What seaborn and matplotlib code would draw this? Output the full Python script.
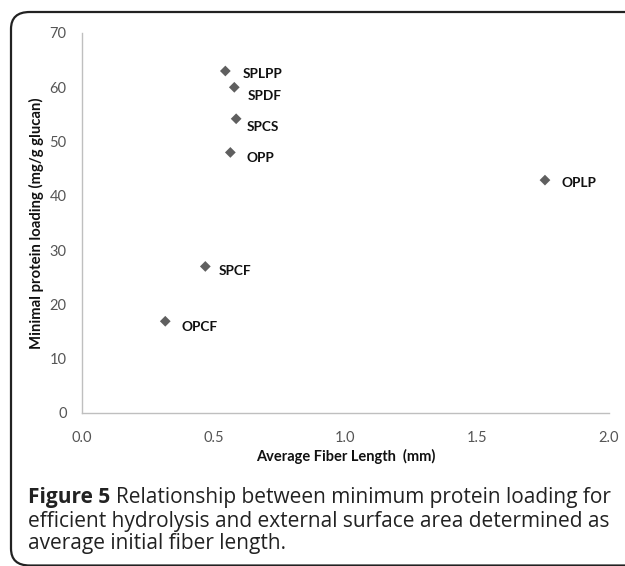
import matplotlib
matplotlib.use('Agg')
import matplotlib.pyplot as plt
import seaborn as sns
import pandas as pd
from matplotlib.patches import FancyBboxPatch

# data
samples = ['SPLPP', 'SPDF', 'SPCS', 'OPP', 'SPCF', 'OPCF', 'OPLP']
fiber_length = [0.544, 0.578, 0.585, 0.563, 0.468, 0.316, 1.757]
protein_loading = [63.0, 60.0, 54.2, 48.0, 27.0, 16.9, 42.9]
x_ticks = [0.0, 0.5, 1.0, 1.5, 2.0]
y_ticks = [0, 10, 20, 30, 40, 50, 60, 70]

caption_head = 'Figure 5'
caption_lines = [
    'Relationship between minimum protein loading for',
    'efficient hydrolysis and external surface area determined as',
    'average initial fiber length.',
]

# label offsets in pixels (dx right, dy down)
label_offsets = {
    'SPLPP': (17, 3), 'SPDF': (13, 9), 'SPCS': (11, 8), 'OPP': (16, 6),
    'SPCF': (13, 5), 'OPCF': (16, 6), 'OPLP': (17, 3),
}

df = pd.DataFrame({'sample': samples, 'length': fiber_length,
                   'loading': protein_loading})

sns.set_style('white')
plt.rcParams['font.family'] = ['Lato', 'DejaVu Sans']

DPI = 100
W, H = 625, 566
fig = plt.figure(figsize=(W / DPI, H / DPI), dpi=DPI)

# rounded frame around the whole figure (right side runs off the edge)
frame = FancyBboxPatch((11 / W, 0.5 / H), 660 / W, 553.5 / H,
                       boxstyle='round,pad=0,rounding_size=0.03',
                       transform=fig.transFigure, fill=False,
                       edgecolor='#222222', linewidth=1.6)
fig.patches.append(frame)

ax = fig.add_axes([82 / W, 153 / H, 527 / W, 380 / H])
sns.scatterplot(data=df, x='length', y='loading', marker='D', s=30,
                color='#5f5f5f', edgecolor='none', ax=ax, legend=False)

px = 72 / DPI
for name, x, y in zip(samples, fiber_length, protein_loading):
    dx, dy = label_offsets[name]
    ax.annotate(name, (x, y), xytext=(dx * px, -dy * px),
                textcoords='offset points', ha='left', va='center',
                fontsize=9.8, fontweight='bold', color='#111111')

ax.set_xlim(0, 2.0)
ax.set_ylim(0, 70)
ax.set_xticks(x_ticks)
ax.set_xticklabels([f'{t:.1f}' for t in x_ticks])
ax.set_yticks(y_ticks)
ax.tick_params(axis='both', length=0, labelsize=10.5, labelcolor='#555555')
ax.tick_params(axis='x', pad=13)
ax.tick_params(axis='y', pad=11)

sns.despine(ax=ax)
for side in ['left', 'bottom']:
    ax.spines[side].set_color('#bfbfbf')
    ax.spines[side].set_linewidth(1.0)

ax.set_xlabel('Average Fiber Length  (mm)', fontsize=10.5, fontweight='bold',
              color='#111111', labelpad=3)
ax.set_ylabel('Minimal protein loading (mg/g glucan)', fontsize=10.7,
              fontweight='bold', color='#111111', labelpad=4)

# caption
cap_font = ['Open Sans', 'DejaVu Sans']
cap_size = 15
cap_y = [497, 521, 544]
head = fig.text(28 / W, 1 - cap_y[0] / H, caption_head, family=cap_font,
                fontsize=cap_size, fontweight='bold', va='center',
                color='#222222')
renderer = fig.canvas.get_renderer()
head_end = head.get_window_extent(renderer).x1
fig.text(head_end / W + 6 / W, 1 - cap_y[0] / H, caption_lines[0],
         family=cap_font, fontsize=cap_size, va='center', color='#222222')
for line, yy in zip(caption_lines[1:], cap_y[1:]):
    fig.text(28 / W, 1 - yy / H, line, family=cap_font, fontsize=cap_size,
             va='center', color='#222222')

fig.savefig('out.png', dpi=DPI)
